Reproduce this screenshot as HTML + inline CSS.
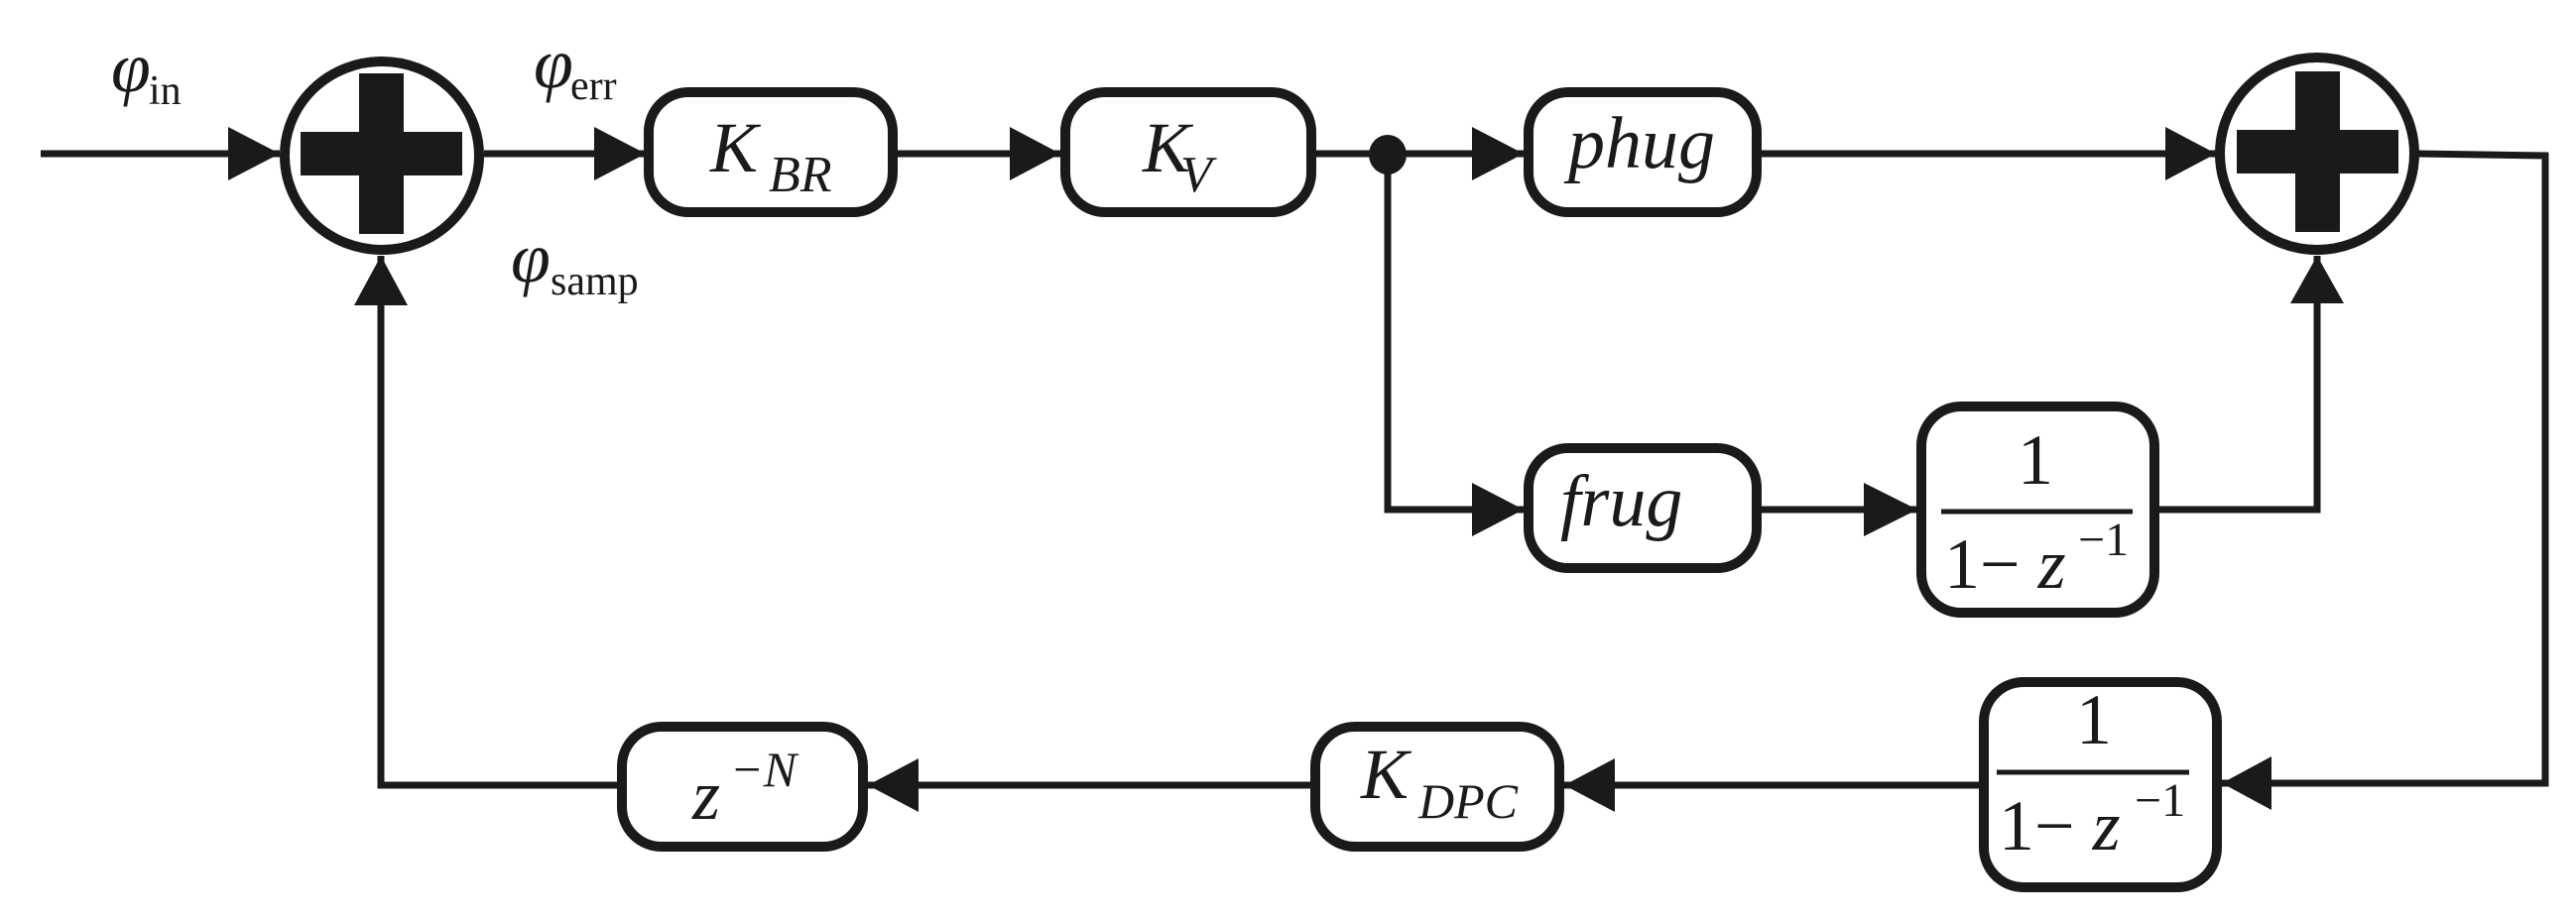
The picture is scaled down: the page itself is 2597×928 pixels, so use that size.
<!DOCTYPE html>
<html><head><meta charset="utf-8"><style>
html,body{margin:0;padding:0;background:#fff;}
svg{display:block;}
text{font-family:"Liberation Serif","DejaVu Serif",serif;fill:#1a1a1a;}
.i{font-style:italic;}
</style></head><body>
<svg width="2597" height="928" viewBox="0 0 2597 928" xmlns="http://www.w3.org/2000/svg">
<g stroke="#1a1a1a" stroke-width="7" fill="none" stroke-linecap="butt">
  <!-- main line -->
  <line x1="41" y1="155" x2="282" y2="155"/>
  <line x1="488" y1="155" x2="651" y2="155"/>
  <line x1="905" y1="155" x2="1069" y2="155"/>
  <line x1="1327" y1="155" x2="1536" y2="155"/>
  <line x1="1776" y1="155" x2="2234" y2="155"/>
  <polyline points="2437,155 2566,157 2566,790 2240,790"/>
  <!-- branch -->
  <polyline points="1399,155 1399,514 1536,514"/>
  <line x1="1776" y1="514" x2="1933" y2="514"/>
  <polyline points="2177,514 2336,514 2336,258"/>
  <!-- bottom -->
  <line x1="1995" y1="792" x2="1577" y2="792"/>
  <line x1="1321" y1="792" x2="875" y2="792"/>
  <polyline points="622,792 384,792 384,258"/>
</g>
<g fill="#1a1a1a">
  <!-- arrowheads -->
  <polygon points="282,155 230,128 230,182"/>
  <polygon points="651,155 599,128 599,182"/>
  <polygon points="1069,155 1018,128 1018,182"/>
  <polygon points="1536,155 1484,128 1484,182"/>
  <polygon points="1536,514 1484,487 1484,541"/>
  <polygon points="2234,155 2183,128 2183,182"/>
  <polygon points="1933,514 1879,487 1879,541"/>
  <polygon points="2336,258 2309,306 2363,306"/>
  <polygon points="384,258 357,308 411,308"/>
  <polygon points="2240,790 2290,763 2290,817"/>
  <polygon points="1577,792 1628,765 1628,819"/>
  <polygon points="875,792 926,765 926,819"/>
  <ellipse cx="1399" cy="156" rx="19" ry="20"/>
  <!-- plus signs -->
  <rect x="303" y="133" width="163" height="44"/>
  <rect x="362" y="74" width="45" height="162"/>
  <rect x="2255" y="131" width="163" height="44"/>
  <rect x="2314" y="72" width="45" height="162"/>
</g>
<g stroke="#1a1a1a" stroke-width="10" fill="none">
  <ellipse cx="385" cy="157" rx="98" ry="95"/>
  <ellipse cx="2336" cy="155" rx="98" ry="97"/>
  <rect x="654" y="93" width="246" height="121" rx="40"/>
  <rect x="1074" y="93" width="248" height="121" rx="40"/>
  <rect x="1541" y="93" width="230" height="121" rx="40"/>
  <rect x="1541" y="452" width="230" height="121" rx="40"/>
  <rect x="1937" y="410" width="235" height="208" rx="40"/>
  <rect x="2000" y="688" width="235" height="207" rx="40"/>
  <rect x="1326" y="733" width="246" height="121" rx="40"/>
  <rect x="627" y="733" width="243" height="121" rx="40"/>
</g>
<g stroke="#1a1a1a" stroke-width="5">
  <line x1="1957" y1="516" x2="2150" y2="516"/>
  <line x1="2013" y1="779" x2="2207" y2="779"/>
</g>
<!-- labels -->
<text class="i" x="112" y="92" font-size="72">φ</text><text x="150" y="105" font-size="42">in</text>
<text class="i" x="538" y="88" font-size="72">φ</text><text x="575" y="100" font-size="42">err</text>
<text class="i" x="515" y="284" font-size="72">φ</text><text x="555" y="297" font-size="42">samp</text>

<text class="i" x="716" y="173" font-size="72">K</text><text class="i" x="775" y="193" font-size="52">BR</text>
<text class="i" x="1152" y="173" font-size="72">K</text><text class="i" x="1190" y="193" font-size="52">V</text>
<text class="i" x="1581" y="169" font-size="74">phug</text>
<text class="i" x="1573" y="530" font-size="74">frug</text>

<text x="2052" y="488" font-size="72" text-anchor="middle">1</text>
<text x="1960" y="593" font-size="72">1− <tspan class="i">z</tspan></text>
<text x="2095" y="560" font-size="48">−1</text>

<text x="2111" y="750" font-size="72" text-anchor="middle">1</text>
<text x="2015" y="857" font-size="72">1− <tspan class="i">z</tspan></text>
<text x="2152" y="823" font-size="48">−1</text>

<text class="i" x="1372" y="805" font-size="72">K</text><text class="i" x="1430" y="825" font-size="50">DPC</text>
<text class="i" x="698" y="826" font-size="72">z</text><text class="i" x="736" y="793" font-size="50">−N</text>
</svg>
</body></html>
